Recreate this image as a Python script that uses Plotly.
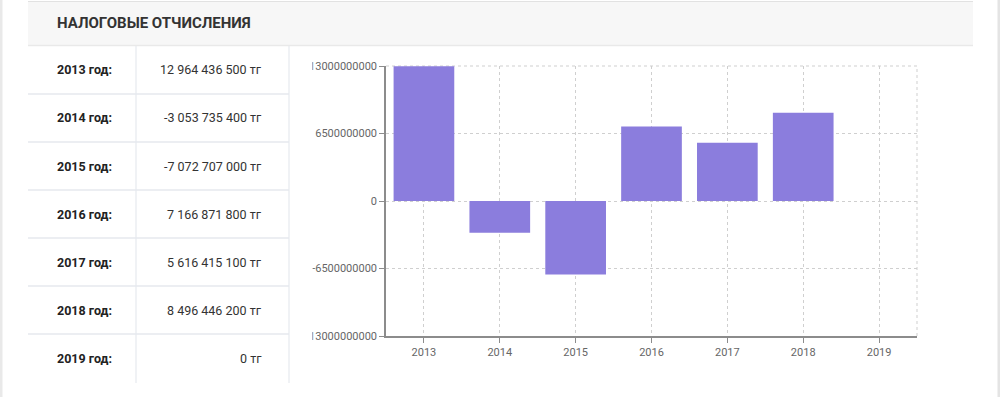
import plotly.graph_objects as go

# ---------------- data ----------------
years = ["2013", "2014", "2015", "2016", "2017", "2018", "2019"]
values = [12964436500, -3053735400, -7072707000, 7166871800, 5616415100, 8496446200, 0]
y_ticks = [-13000000000, -6500000000, 0, 6500000000, 13000000000]
title_text = "НАЛОГОВЫЕ ОТЧИСЛЕНИЯ"
row_labels = [f"{y} год:" for y in years]
value_labels = [f"{v:,}".replace(",", " ") + " тг" for v in values]

W, H = 1000, 397


def px(x):
    return x / W


def py(y):
    return 1 - y / H


BAR = "#8b7ddd"
GRID = "#cfcfcf"
AXIS = "#8c8c8c"
FONT = "Roboto"

fig = go.Figure()
fig.add_trace(go.Bar(
    x=years, y=values, marker=dict(color=BAR, line=dict(width=0)),
    hoverinfo="x+y", showlegend=False,
))

shapes = []
annotations = []

# page edges
shapes.append(dict(type="rect", xref="paper", yref="paper", x0=px(0), x1=px(2.5), y0=0, y1=1,
                   fillcolor="#e9e9e9", line=dict(width=0), layer="below"))
shapes.append(dict(type="rect", xref="paper", yref="paper", x0=px(997.5), x1=px(1000), y0=0, y1=1,
                   fillcolor="#e4e4e4", line=dict(width=0), layer="below"))

# header band
shapes.append(dict(type="rect", xref="paper", yref="paper", x0=px(28), x1=px(973), y0=py(46), y1=py(1),
                   fillcolor="#f7f7f7", line=dict(width=0), layer="below"))
shapes.append(dict(type="line", xref="paper", yref="paper", x0=px(28), x1=px(973), y0=py(1.5), y1=py(1.5),
                   line=dict(color="#e2e2e2", width=1), layer="below"))
shapes.append(dict(type="line", xref="paper", yref="paper", x0=px(28), x1=px(973), y0=py(45.5), y1=py(45.5),
                   line=dict(color="#e9e9e9", width=1.5), layer="below"))
annotations.append(dict(text=title_text, xref="paper", yref="paper", x=px(55), y=py(23),
                        xanchor="left", yanchor="middle", showarrow=False,
                        font=dict(family=FONT, size=15, color="#333333", weight=700)))

# table
TABLE_LINE = "#e6e9ee"
row_top = 46
row_h = 48
for i in range(1, len(years)):
    yy = row_top + i * row_h
    shapes.append(dict(type="line", xref="paper", yref="paper", x0=px(28), x1=px(289), y0=py(yy), y1=py(yy),
                       line=dict(color=TABLE_LINE, width=1.5), layer="below"))
for xx in (136, 289):
    shapes.append(dict(type="line", xref="paper", yref="paper", x0=px(xx), x1=px(xx), y0=py(46), y1=py(383),
                       line=dict(color=TABLE_LINE, width=1.2), layer="below"))
for i, (lab, val) in enumerate(zip(row_labels, value_labels)):
    cy = row_top + i * row_h + row_h / 2
    annotations.append(dict(text=lab, xref="paper", yref="paper", x=px(55), y=py(cy),
                            xanchor="left", yanchor="middle", showarrow=False,
                            font=dict(family=FONT, size=12.5, color="#222222", weight=700)))
    annotations.append(dict(text=val, xref="paper", yref="paper", x=px(264), y=py(cy),
                            xanchor="right", yanchor="middle", showarrow=False,
                            font=dict(family=FONT, size=12.5, color="#333333")))

# chart frame pieces (dashed right and top edges)
shapes.append(dict(type="line", xref="paper", yref="paper", x0=px(917), x1=px(917), y0=py(336), y1=py(66),
                   line=dict(color=GRID, width=1, dash="3px,3px"), layer="below"))
shapes.append(dict(type="line", xref="paper", yref="paper", x0=px(386), x1=px(917), y0=py(66), y1=py(66),
                   line=dict(color=GRID, width=1, dash="3px,3px"), layer="below"))

# clip of the long tick labels at the chart container's left edge
shapes.append(dict(type="rect", xref="paper", yref="paper", x0=px(290.5), x1=px(312.3), y0=py(345), y1=py(55),
                   fillcolor="white", line=dict(width=0), layer="above"))

fig.update_layout(
    width=W, height=H,
    autosize=False,
    margin=dict(l=0, r=0, t=0, b=0, pad=0, autoexpand=False),
    paper_bgcolor="white", plot_bgcolor="white",
    bargap=0.2,
    shapes=shapes, annotations=annotations,
    font=dict(family=FONT, size=11, color="#666666"),
    xaxis=dict(
        domain=[px(386), px(917)],
        automargin=False,
        type="category", categoryorder="array", categoryarray=years,
        showgrid=True, gridcolor=GRID, griddash="3px,3px", gridwidth=1,
        showline=True, linecolor=AXIS, linewidth=1.5,
        ticks="outside", ticklen=5, tickcolor=AXIS, tickwidth=1,
        tickfont=dict(family=FONT, size=11, color="#666666"),
        fixedrange=True,
    ),
    yaxis=dict(
        domain=[py(336), py(66)],
        automargin=False,
        range=[y_ticks[0], y_ticks[-1]],
        tickmode="array", tickvals=y_ticks, ticktext=[str(v) for v in y_ticks],
        showgrid=True, gridcolor=GRID, griddash="3px,3px", gridwidth=1,
        zeroline=False,
        showline=True, linecolor=AXIS, linewidth=1.5,
        ticks="outside", ticklen=5, tickcolor=AXIS, tickwidth=1,
        tickfont=dict(family=FONT, size=11, color="#666666"),
        fixedrange=True,
    ),
)

fig.write_html(
    "out.html",
    config={"displayModeBar": False},
    post_script="document.body.style.margin='0';document.body.style.padding='0';document.body.style.overflow='hidden';",
)
